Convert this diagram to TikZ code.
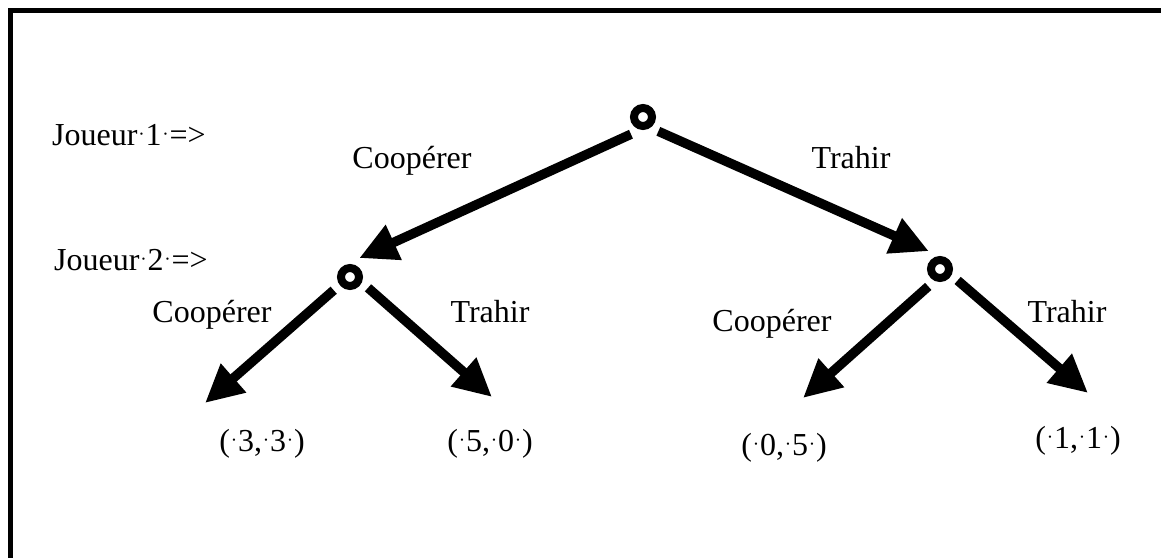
\documentclass[tikz,border=0pt]{standalone}
\usepackage{fontspec}
\setmainfont{Liberation Serif}
\usetikzlibrary{arrows.meta}

\newcommand\esp{\makebox[.25em]{\raisebox{.13em}{\scalebox{.6}{·}}}}

\tikzset{
  noeud/.style={circle,draw,line width=8pt,inner sep=0pt,minimum size=18pt,outer sep=12pt},
  coup/.style={line width=9.5pt,-{Triangle[length=38pt,width=36pt]}},
  txt/.style={font=\fontsize{32}{38}\selectfont,inner sep=0pt,anchor=base},
}

\begin{document}
\begin{tikzpicture}[x=1pt,y=-1pt]
\useasboundingbox (0,0) rectangle (1161,557);
\draw[line width=5pt] (10,570) |- (1170,10);
% joueurs
\node[txt,anchor=base west] (j1) at (52,145) {Joueur\esp 1\esp =>};
\node[txt,anchor=base west] (j2) at (54,270) {Joueur\esp 2\esp =>};
% noeuds de decision
\node[noeud] (racine) at (643,117) {};
\node[noeud] (j2g) at (350,277) {};
\node[noeud] (j2d) at (940,269) {};
% gains
\node[txt] (g1) at (262,451) {(\esp 3,\esp 3\esp )};
\node[txt] (g2) at (490,451) {(\esp 5,\esp 0\esp )};
\node[txt] (g3) at (784,455) {(\esp 0,\esp 5\esp )};
\node[txt] (g4) at (1078,448) {(\esp 1,\esp 1\esp )};
\coordinate (f1) at (205,403);
\coordinate (f2) at (492,397);
\coordinate (f3) at (803,398);
\coordinate (f4) at (1088,393);
% coups
\draw[coup] (racine.235) -- (j2g.64);
\draw[coup] (racine.317) -- (j2d.122);
\draw[coup] (j2g.219) -- (f1);
\draw[coup] (j2g.329) -- (f2);
\draw[coup] (j2d.236) -- (f3);
\draw[coup] (j2d.327) -- (f4);
% etiquettes
\node[txt] (c1) at (412,168) {Coopérer};
\node[txt] (t1) at (851,168) {Trahir};
\node[txt] (c2) at (212,322) {Coopérer};
\node[txt] (t2) at (490,322) {Trahir};
\node[txt] (c3) at (772,331) {Coopérer};
\node[txt] (t3) at (1067,322) {Trahir};
\end{tikzpicture}
\end{document}
